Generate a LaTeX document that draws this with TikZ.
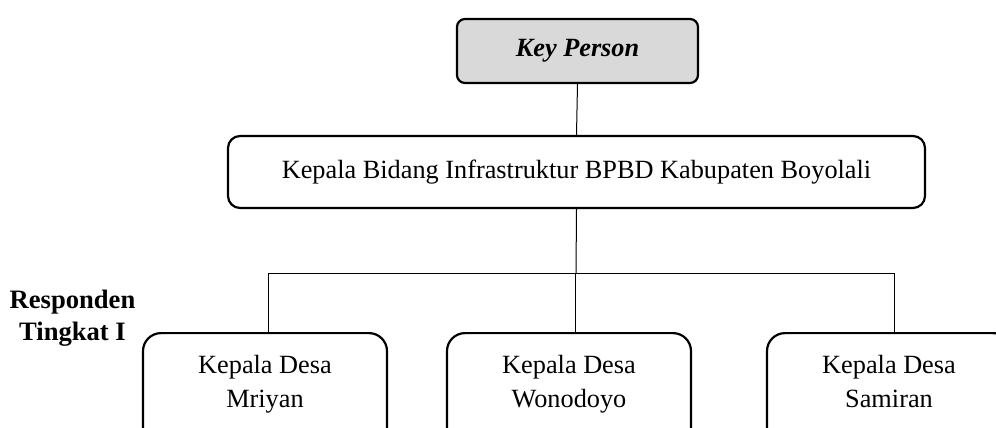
\documentclass[tikz,border=0pt]{standalone}
\usepackage{fontspec}
\setmainfont{Liberation Serif}
\begin{document}
\begin{tikzpicture}[x=1pt,y=-1pt,
  every node/.style={font=\fontsize{26.3}{34}\selectfont, inner sep=0pt},
  boxline/.style={draw=black, line width=2.2pt},
  conn/.style={draw=black, line width=1pt},
  keybox/.style={boxline, fill=black!15, rounded corners=8pt, minimum width=241pt, minimum height=64pt},
  headbox/.style={boxline, fill=white, rounded corners=12pt, minimum width=697pt, minimum height=72pt},
  desabox/.style={boxline, fill=white, rounded corners=18pt, minimum width=244pt, minimum height=140pt, anchor=north},
  txt/.style={align=center, anchor=base}
]
\useasboundingbox (0,0) rectangle (996,428);
\clip (0,0) rectangle (996,428);
% nodes
\node[keybox] (key) at (577.5,51) {\textbf{\textit{Key Person}}};
\node[headbox] (head) at (576.5,172) {Kepala Bidang Infrastruktur BPBD Kabupaten Boyolali};
\node[txt, font=\fontsize{26.6}{32}\selectfont\bfseries] (resp) at (72.5,340) {Responden\\Tingkat I};
\coordinate (bus0) at (576,273);
\coordinate (bus1) at (268,273);
\coordinate (bus2) at (575,273);
\coordinate (bus3) at (894,273);
\node[desabox] (d1) at (265,332) {};
\node[desabox] (d2) at (569,332) {};
\node[desabox] (d3) at (889,332) {};
\node[txt] (t1) at (265,407) {Kepala Desa\\Mriyan};
\node[txt] (t2) at (569,407) {Kepala Desa\\Wonodoyo};
\node[txt] (t3) at (889,407) {Kepala Desa\\Samiran};
% connectors
\draw[conn] (key.south) -- (head.north);
\draw[conn] (head.south) -- (bus0);
\draw[conn] (bus1) -- (bus3);
\draw[conn] (bus1) -- (bus1 |- d1.north);
\draw[conn] (bus2) -- (bus2 |- d2.north);
\draw[conn] (bus3) -- (bus3 |- d3.north);
\end{tikzpicture}
\end{document}
